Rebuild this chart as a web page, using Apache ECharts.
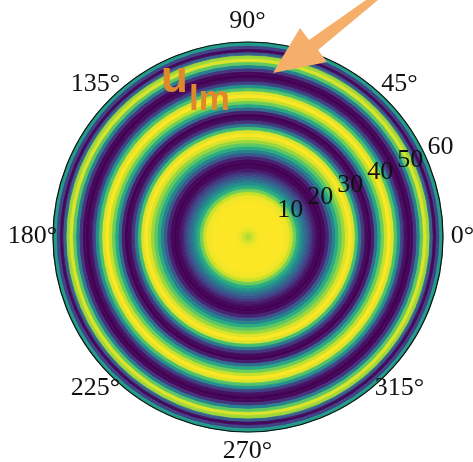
<!DOCTYPE html>
<html>
<head>
<meta charset="utf-8">
<style>
  html, body { margin: 0; padding: 0; background: #fff; }
  #main { width: 473px; height: 462px; }
</style>
<script src="https://cdn.jsdelivr.net/npm/echarts@6/dist/echarts.min.js"></script>
</head>
<body>
<div id="main"></div>
<script>
// 径向剖面：每个半径格 (r 到 r+1) 上的场值，0 = 最暗，1 = 最亮
const radiusBins = Array.from({ length: 60 }, (_, i) => i);
const fieldValues = [
    0.88, 0.93, 0.97, 0.99, 1.0, 1.0, 1.0, 1.0, 1.0, 1.0,
    1.0, 0.99, 0.98, 0.92, 0.78, 0.62, 0.5, 0.38, 0.28, 0.18,
    0.08, 0.02, 0.0, 0.02, 0.1, 0.28, 0.45, 0.62, 0.75, 0.85,
    0.95, 1.0, 0.95, 0.7, 0.4, 0.15, 0.03, 0.0, 0.08, 0.35,
    0.6, 0.78, 0.92, 1.0, 0.95, 0.72, 0.5, 0.2, 0.05, 0.0,
    0.02, 0.15, 0.45, 0.75, 0.95, 0.85, 0.3, 0.02, 0.2, 0.55
];
const angleTicks = [0, 45, 90, 135, 180, 225, 270, 315];
const radiusTicks = [10, 20, 30, 40, 50, 60];

const viridis = ['#440154', '#482878', '#3e4989', '#31688e', '#26828e',
    '#1f9e89', '#35b779', '#6ece58', '#b5de2b', '#fde725'];

const center = [248, 237];
const radius = 195;
const labelRadius = 215;   // 角度标签所在圆
const serif = 'Liberation Serif, Times New Roman, serif';

const myChart = echarts.init(document.getElementById('main'));

// 每个环的颜色（viridis 色带插值），边框同色以消除接缝
const ringData = radiusBins.map((r, i) => {
    const c = echarts.color.lerp(fieldValues[i], viridis);
    return {
        value: [r, 360, fieldValues[i]],
        itemStyle: { color: c, borderColor: c, borderWidth: 0.8 }
    };
});

const option = {
    backgroundColor: '#fff',
    animation: false,
    polar: [
        { center: center, radius: radius },
        { center: center, radius: labelRadius },
        { center: center, radius: radius }
    ],
    angleAxis: [
        { polarIndex: 0, type: 'value', min: 0, max: 360, show: false },
        {
            polarIndex: 1, type: 'value', min: 0, max: 360,
            startAngle: 0, clockwise: false, show: false
        },
        {
            polarIndex: 2, type: 'value', min: 0, max: 360, startAngle: 22.5, z: 10,
            axisLine: { show: true, lineStyle: { color: '#111', width: 1.2 } },
            axisTick: { show: false },
            splitLine: { show: false },
            axisLabel: { show: false }
        }
    ],
    radiusAxis: [
        { polarIndex: 0, type: 'category', data: radiusBins, show: false },
        { polarIndex: 1, type: 'value', min: 0, max: 1, show: false },
        {
            polarIndex: 2, type: 'value', min: 0, max: 60, interval: 10, z: 10,
            axisLine: { show: false },
            axisTick: { show: false },
            splitLine: { show: false },
            axisLabel: {
                color: '#111', fontFamily: serif, fontSize: 26, margin: 2,
                align: 'left', verticalAlign: 'bottom',
                formatter: v => radiusTicks.indexOf(v) >= 0 ? String(v) : ''
            }
        }
    ],
    series: [
        {
            type: 'bar',
            coordinateSystem: 'polar',
            polarIndex: 0,
            barCategoryGap: '0%',
            encode: { radius: 0, angle: 1 },
            data: ringData
        },
        {
            // 角度刻度标签
            type: 'scatter',
            coordinateSystem: 'polar',
            polarIndex: 1,
            symbol: 'circle',
            symbolSize: 1,
            itemStyle: { color: '#fff', opacity: 0 },
            silent: true,
            z: 10,
            label: {
                show: true,
                position: [0, 0],
                align: 'center',
                verticalAlign: 'middle',
                color: '#111',
                opacity: 1,
                textBorderWidth: 0,
                fontFamily: serif,
                fontSize: 26,
                formatter: p => p.value[1] + '°'
            },
            data: angleTicks.map(a => [1, a])
        }
    ],
    graphic: [
        {
            type: 'polygon', z: 100,
            shape: { points: [[366, 0], [378, 0], [318, 50], [327, 62], [273, 73], [300, 28], [309, 40]] },
            style: { fill: '#f6ae6b' }
        },
        {
            type: 'text', left: 161, top: 58, z: 100,
            style: { text: 'u', font: 'bold 44px Liberation Sans, Arial, sans-serif', fill: '#e0892c' }
        },
        {
            type: 'text', left: 189, top: 83, z: 100,
            style: { text: 'lm', font: 'bold 35px Liberation Sans, Arial, sans-serif', fill: '#e0892c' }
        }
    ]
};

myChart.setOption(option);
</script>
</body>
</html>
